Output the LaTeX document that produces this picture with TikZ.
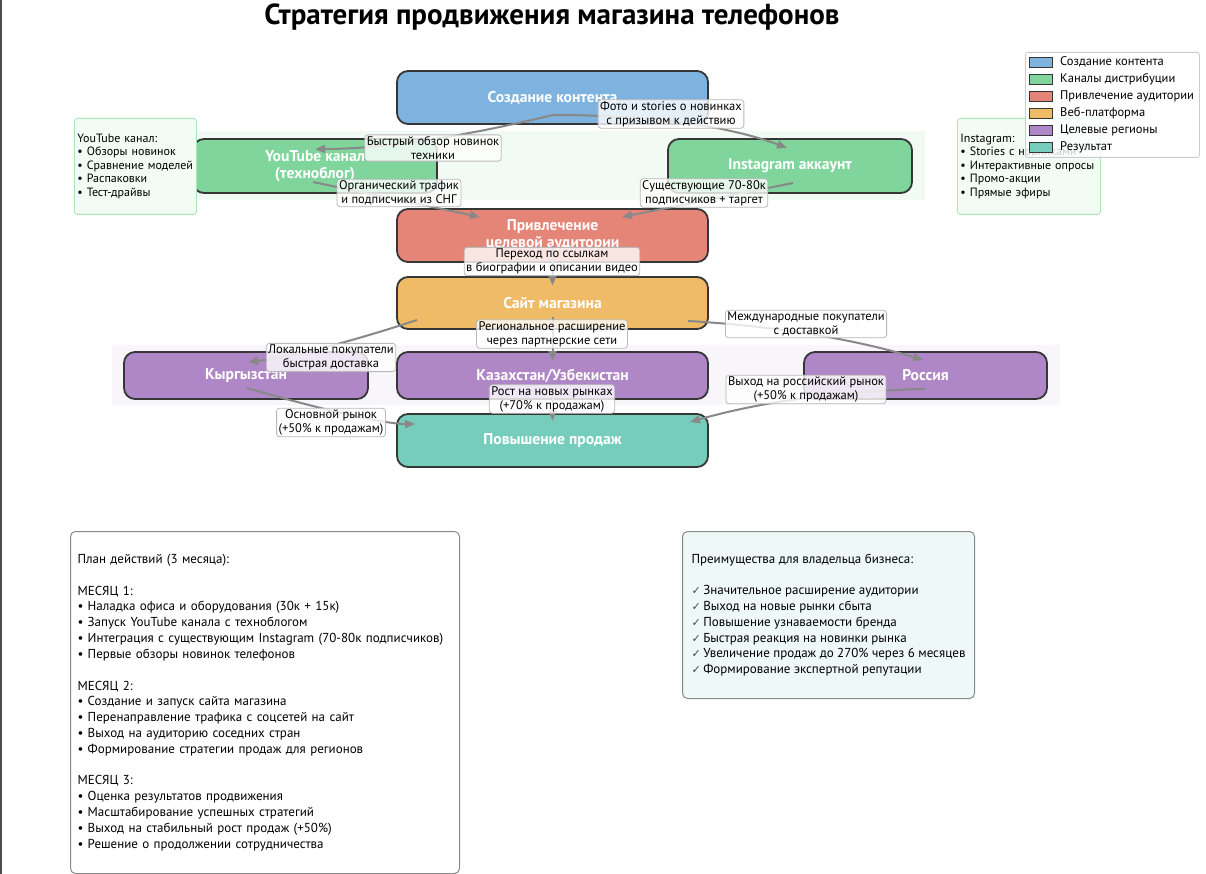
\documentclass[tikz,border=0pt]{standalone}
\usepackage{fontspec}
\setmainfont{PT Sans}
\newfontfamily\symfont{DejaVu Sans}
\usetikzlibrary{arrows.meta,calc}
\definecolor{cblue}{HTML}{7EB2DF}
\definecolor{cgreen}{HTML}{80D59C}
\definecolor{cred}{HTML}{E58577}
\definecolor{corange}{HTML}{F0BB66}
\definecolor{cpurple}{HTML}{B087C6}
\definecolor{cteal}{HTML}{76CDBB}
\definecolor{boxborder}{HTML}{363636}
\definecolor{egray}{HTML}{888888}
\definecolor{lblborder}{HTML}{B8B8B8}
\definecolor{notegreenb}{HTML}{A8E6B8}
\definecolor{notegreenf}{HTML}{F3FBF5}
\definecolor{bandgreen}{HTML}{F2FAF4}
\definecolor{bandpurple}{HTML}{F8F6FB}
\definecolor{planborder}{HTML}{8A8A8A}
\definecolor{advfill}{HTML}{EEF8F6}
\definecolor{legborder}{HTML}{CCCCCC}
\definecolor{chkgray}{HTML}{444444}
\newcommand{\chk}{{\symfont\fontsize{11}{15.8}\selectfont\color{chkgray}✓}\hspace{2.5pt}}
\begin{document}
\begin{tikzpicture}[x=1pt,y=-1pt,
  box/.style={draw=boxborder, line width=1.8pt, rounded corners=11pt, text=white,
    font=\fontsize{15.6}{17}\selectfont\bfseries, align=center, inner sep=0pt},
  lbl/.style={draw=lblborder, line width=0.8pt, fill=white, fill opacity=0.8, text opacity=1,
    rounded corners=3pt, font=\fontsize{12.5}{14}\selectfont, align=center, inner xsep=2pt, inner ysep=1.5pt},
  edgeline/.style={draw=egray, line width=2pt, -{Triangle[length=10pt,width=8pt]}},
  smallnote/.style={draw=notegreenb, fill=notegreenf, line width=0.9pt, rounded corners=3pt,
    font=\fontsize{12}{13.5}\selectfont, align=left, anchor=north west, inner xsep=3pt, inner ysep=0pt},
  bignote/.style={draw=planborder, line width=1pt, rounded corners=5pt,
    font=\fontsize{13}{15.8}\selectfont, align=left, anchor=north west, inner ysep=0pt},
  legpatch/.style={draw=boxborder, line width=0.7pt, minimum width=23, minimum height=10, inner sep=0pt},
  legtext/.style={anchor=west, font=\fontsize{12.5}{14}\selectfont, inner sep=0pt}
]
\useasboundingbox (0,0) rectangle (1206,874);
\fill[white] (0,0) rectangle (1206,874);
% left frame line
\draw[gray!60!black, line width=1.5pt] (1,0) -- (1,874);
% title
\node[font=\fontsize{29}{32}\selectfont\bfseries] (title) at (552,17) {Стратегия продвижения магазина телефонов};
% bands
\fill[bandgreen] (180,131) rectangle (925,200);
\fill[bandpurple] (112,345) rectangle (1060,405);
% main boxes
\node[box, fill=cblue, minimum width=311, minimum height=53] (cont) at (552.5,97.5) {Создание контента};
\node[box, fill=cgreen, minimum width=244, minimum height=54] (yt) at (315,166) {YouTube канал\\(техноблог)};
\node[box, fill=cgreen, minimum width=244, minimum height=54] (ig) at (790,166) {Instagram аккаунт};
\node[box, fill=cred, minimum width=311, minimum height=53] (attr) at (552.5,235.5) {Привлечение\\целевой аудитории};
\node[box, fill=corange, minimum width=311, minimum height=52] (site) at (552.5,303) {Сайт магазина};
\node[box, fill=cpurple, minimum width=244, minimum height=47] (kg) at (246,375.5) {Кыргызстан};
\node[box, fill=cpurple, minimum width=311, minimum height=47] (kz) at (552.5,375.5) {Казахстан/Узбекистан};
\node[box, fill=cpurple, minimum width=243, minimum height=47] (ru) at (925.5,375.5) {Россия};
\node[box, fill=cteal, minimum width=311, minimum height=53] (sales) at (552.5,440.5) {Повышение продаж};
% connectors
\draw[edgeline] ($(cont)+(0.5,17.5)$) .. controls (458,138) and (379,149) .. ($(yt)+(0,-17)$);
\draw[edgeline] ($(cont)+(0.5,17.5)$) .. controls (651,115) and (729,126) .. ($(ig)+(-3,-18)$);
\draw[edgeline] ($(yt)+(-2,16)$) -- ($(attr)+(-72.5,-18.5)$);
\draw[edgeline] ($(ig)+(3,17)$) -- ($(attr)+(69.5,-18.5)$);
\draw[edgeline] ($(attr)+(0,10.5)$) -- ($(site)+(0,-17.5)$);
\draw[edgeline] ($(site)+(0,14)$) -- ($(kz)+(0,-14.5)$);
\draw[edgeline] ($(kz)+(0,12.5)$) -- ($(sales)+(0,-19.5)$);
\draw[edgeline] ($(site)+(-135.5,17)$) .. controls (347,343) and (291,357) .. ($(kg)+(2,-13.5)$);
\draw[edgeline] ($(kg)+(1,12.5)$) .. controls (330,412) and (386,424) .. ($(sales)+(-137.5,-16.5)$);
\draw[edgeline] ($(site)+(135.5,18)$) .. controls (775,326) and (854,339) .. ($(ru)+(-2.5,-15.5)$);
\draw[edgeline] ($(ru)+(-0.5,13.5)$) .. controls (838,391) and (760,402) .. ($(sales)+(137.5,-18.5)$);
% connector labels
\node[lbl] (lA) at (433,148) {Быстрый обзор новинок\\техники};
\node[lbl] (lB) at (671,114) {Фото и stories о новинках\\с призывом к действию};
\node[lbl] (lC) at (399,193) {Органический трафик\\и подписчики из СНГ};
\node[lbl] (lD) at (704,193) {Существующие 70-80к\\подписчиков + таргет};
\node[lbl] (lE) at (552,261.5) {Переход по ссылкам\\в биографии и описании видео};
\node[lbl] (lG) at (552,334) {Региональное расширение\\через партнерские сети};
\node[lbl] (lF) at (331,357.5) {Локальные покупатели\\быстрая доставка};
\node[lbl] (lH) at (806,324) {Международные покупатели\\с доставкой};
\node[lbl] (lJ) at (552,399) {Рост на новых рынках\\(+70\% к продажам)};
\node[lbl] (lI) at (331,422.5) {Основной рынок\\(+50\% к продажам)};
\node[lbl] (lK) at (806,389.5) {Выход на российский рынок\\(+50\% к продажам)};
% side notes
\node[smallnote, minimum width=122, minimum height=96, text width=116] (ytnote) at (74,118)
  {YouTube канал:\\• Обзоры новинок\\• Сравнение моделей\\• Распаковки\\• Тест-драйвы};
\node[smallnote, minimum width=143, minimum height=96, text width=137] (ignote) at (957,118)
  {Instagram:\\• Stories с новинками\\• Интерактивные опросы\\• Промо-акции\\• Прямые эфиры};
% legend
\node[draw=legborder, fill=white, fill opacity=0.8, line width=0.8pt, rounded corners=2pt,
  minimum width=174, minimum height=105, anchor=north west, inner sep=0pt] (legend) at (1025,52) {};
\node[legpatch, fill=cblue] (p1) at (1040.5,62) {};
\node[legtext] (t1) at (1060,62) {Создание контента};
\node[legpatch, fill=cgreen] (p2) at (1040.5,79) {};
\node[legtext] (t2) at (1060,79) {Каналы дистрибуции};
\node[legpatch, fill=cred] (p3) at (1040.5,96) {};
\node[legtext] (t3) at (1060,96) {Привлечение аудитории};
\node[legpatch, fill=corange] (p4) at (1040.5,113) {};
\node[legtext] (t4) at (1060,113) {Веб-платформа};
\node[legpatch, fill=cpurple] (p5) at (1040.5,130) {};
\node[legtext] (t5) at (1060,130) {Целевые регионы};
\node[legpatch, fill=cteal] (p6) at (1040.5,147) {};
\node[legtext] (t6) at (1060,147) {Результат};
% bottom notes
\node[bignote, fill=white, minimum width=389, minimum height=342, text width=375, inner xsep=7pt] (plan) at (70,531)
  {План действий (3 месяца):\\[15.8pt]
   МЕСЯЦ 1:\\
   • Наладка офиса и оборудования (30к + 15к)\\
   • Запуск YouTube канала с техноблогом\\
   • Интеграция с существующим Instagram (70-80к подписчиков)\\
   • Первые обзоры новинок телефонов\\[15.8pt]
   МЕСЯЦ 2:\\
   • Создание и запуск сайта магазина\\
   • Перенаправление трафика с соцсетей на сайт\\
   • Выход на аудиторию соседних стран\\
   • Формирование стратегии продаж для регионов\\[15.8pt]
   МЕСЯЦ 3:\\
   • Оценка результатов продвижения\\
   • Масштабирование успешных стратегий\\
   • Выход на стабильный рост продаж (+50\%)\\
   • Решение о продолжении сотрудничества};
\node[bignote, fill=advfill, minimum width=292, minimum height=167, inner xsep=3pt] (adv) at (682,531)
  {Преимущества для владельца бизнеса:\\[15.8pt]
   \chk Значительное расширение аудитории\\
   \chk Выход на новые рынки сбыта\\
   \chk Повышение узнаваемости бренда\\
   \chk Быстрая реакция на новинки рынка\\
   \chk Увеличение продаж до 270\% через 6 месяцев\\
   \chk Формирование экспертной репутации};
\end{tikzpicture}
\end{document}
